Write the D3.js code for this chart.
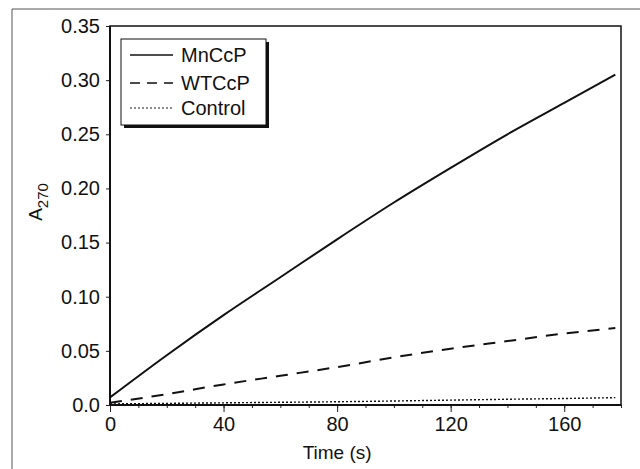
<!DOCTYPE html>
<html>
<head>
<meta charset="utf-8">
<script src="https://cdn.jsdelivr.net/npm/d3@7"></script>
<style>
  body { margin: 0; background: #fff; }
  text { font-family: "Liberation Sans", Arial, sans-serif; fill: #111; }
</style>
</head>
<body>
<div id="chart"></div>
<script>
// data
var time = [0, 20, 40, 60, 80, 100, 120, 140, 160, 178];
var mnccp = [0.007, 0.046, 0.083, 0.118, 0.153, 0.187, 0.219, 0.250, 0.279, 0.305];
var wtccp = [0.002, 0.010, 0.019, 0.027, 0.035, 0.044, 0.052, 0.059, 0.066, 0.071];
var control = [0.001, 0.0015, 0.002, 0.0025, 0.003, 0.0037, 0.0045, 0.0053, 0.006, 0.0068];
var seriesNames = ["MnCcP", "WTCcP", "Control"];
var xTicks = [0, 40, 80, 120, 160];
var yTicks = [0, 0.05, 0.10, 0.15, 0.20, 0.25, 0.30, 0.35];
var yTickLabels = ["0.0", "0.05", "0.10", "0.15", "0.20", "0.25", "0.30", "0.35"];

var svgWidth = 640;
var svgHeight = 469;

var margin = {
    top : 26,
    left : 110,
    right : 19,
    bottom : 64
};

var Width = svgWidth - margin.left - margin.right;
var Height = svgHeight - margin.top - margin.bottom;

var svg = d3.select("#chart")
    .append("svg")
    .attr("width", svgWidth)
    .attr("height", svgHeight);

// scanned page border (top and left)
svg.append("path")
    .attr("d", "M12,469V9H640")
    .attr("fill", "none")
    .attr("stroke", "#555")
    .attr("stroke-width", 1);

var chartGroup = svg.append("g")
    .attr("transform", `translate(${margin.left}, ${margin.top})`);

var xScale = d3.scaleLinear().domain([0, 180]).range([0, Width]);
var yScale = d3.scaleLinear().domain([0, 0.35]).range([Height, 0]);

// minor x ticks
chartGroup.append("g")
    .attr("transform", `translate(0, ${Height})`)
    .call(d3.axisBottom(xScale).ticks(18).tickSize(3).tickFormat(""))
    .call(g => g.select(".domain").remove());

var xAxis = chartGroup.append("g")
    .attr("transform", `translate(0, ${Height})`)
    .call(d3.axisBottom(xScale).tickValues(xTicks).tickSize(7).tickPadding(5));
xAxis.select(".domain").remove();
xAxis.selectAll("text").attr("font-size", 20).attr("font-family", null);

var yAxis = chartGroup.append("g")
    .call(d3.axisLeft(yScale).tickValues(yTicks).tickSize(4).tickPadding(6)
        .tickFormat((d, i) => yTickLabels[i]));
yAxis.select(".domain").remove();
yAxis.selectAll("text").attr("font-size", 20).attr("font-family", null);
chartGroup.selectAll(".tick line").attr("stroke", "#222");

// plot frame
chartGroup.append("rect")
    .attr("width", Width)
    .attr("height", Height)
    .attr("fill", "none")
    .attr("stroke", "#111")
    .attr("stroke-width", 1.5);
chartGroup.append("line")
    .attr("x1", 0).attr("x2", 0).attr("y1", 0).attr("y2", Height)
    .attr("stroke", "#111").attr("stroke-width", 2);
chartGroup.append("line")
    .attr("x1", 0).attr("x2", Width).attr("y1", Height).attr("y2", Height)
    .attr("stroke", "#111").attr("stroke-width", 2.2);

var styles = [
    { dash: null, width: 2 },
    { dash: "12,9", width: 2 },
    { dash: "2,2", width: 1.4 }
];
var allSeries = [mnccp, wtccp, control];

var line = d3.line()
    .x((d, i) => xScale(time[i]))
    .y(d => yScale(d))
    .curve(d3.curveMonotoneX);

allSeries.forEach(function(s, k) {
    chartGroup.append("path")
        .datum(s)
        .attr("d", line)
        .attr("fill", "none")
        .attr("stroke", "#111")
        .attr("stroke-width", styles[k].width)
        .attr("stroke-dasharray", styles[k].dash);
});

// legend
var legend = svg.append("g").attr("transform", "translate(121, 39)");
legend.append("rect")
    .attr("x", 3).attr("y", 3)
    .attr("width", 145).attr("height", 86)
    .attr("fill", "#111");
legend.append("rect")
    .attr("width", 145).attr("height", 86)
    .attr("fill", "#fff")
    .attr("stroke", "#111")
    .attr("stroke-width", 1);

var rowY = [16, 44, 69];
seriesNames.forEach(function(name, k) {
    legend.append("line")
        .attr("x1", 9).attr("x2", 52)
        .attr("y1", rowY[k]).attr("y2", rowY[k])
        .attr("stroke", "#111")
        .attr("stroke-width", styles[k].width * 0.7)
        .attr("stroke-dasharray", styles[k].dash === "12,9" ? "10,7" : styles[k].dash);
    legend.append("text")
        .attr("x", 60)
        .attr("y", rowY[k])
        .attr("dy", "0.36em")
        .attr("font-size", 20)
        .text(name);
});

// axis titles
chartGroup.append("text")
    .attr("x", xScale(80))
    .attr("y", Height + 54)
    .attr("text-anchor", "middle")
    .attr("font-size", 19)
    .text("Time (s)");

var yLabel = svg.append("text")
    .attr("transform", "translate(42, 202) rotate(-90)")
    .attr("text-anchor", "middle")
    .attr("font-size", 19);
yLabel.append("tspan").text("A");
yLabel.append("tspan").attr("font-size", 15).attr("dy", 6).text("270");
</script>
</body>
</html>
